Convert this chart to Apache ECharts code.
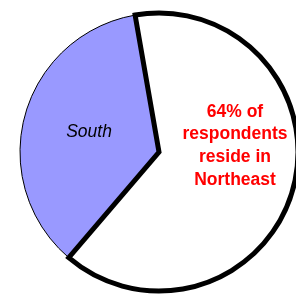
<!DOCTYPE html>
<html>
<head>
<meta charset="utf-8">
<script src="https://cdn.jsdelivr.net/npm/echarts@6/dist/echarts.min.js"></script>
<style>
  html, body { margin: 0; padding: 0; background: #fff; }
  #chart { width: 296px; height: 296px; }
</style>
</head>
<body>
<div id="chart"></div>
<script>
// 区域名称与占比
var regions = ['South', 'Northeast'];
var shares = [36, 64];
var fills = ['#9999ff', '#ffffff'];

var myChart = echarts.init(document.getElementById('chart'));

var pieData = regions.map(function (name, i) {
    var isMain = name === 'Northeast';
    return {
        name: name,
        value: shares[i],
        itemStyle: {
            color: fills[i],
            borderColor: '#000',
            borderWidth: isMain ? 5 : 1,
            borderJoin: 'miter'
        },
        label: isMain ? {
            formatter: '{d}% of\nrespondents\nreside in\n{b}',
            color: '#ff0000',
            fontWeight: 'bold',
            fontSize: 17.5,
            lineHeight: 22.7
        } : {
            formatter: '{b}',
            color: '#000',
            fontStyle: 'italic',
            fontSize: 17.5
        }
    };
});

var option = {
    animation: false,
    series: [{
        type: 'pie',
        center: [159, 152],
        radius: 139,
        startAngle: 229.5,
        clockwise: true,
        label: {
            show: true,
            position: 'inside',
            fontFamily: 'Liberation Sans, Arial, sans-serif'
        },
        labelLine: { show: false },
        labelLayout: function (params) {
            if (params.dataIndex === 1) {
                return { x: 235, y: 146, align: 'center', verticalAlign: 'middle' };
            }
            return { x: 89, y: 132, align: 'center', verticalAlign: 'middle' };
        },
        emphasis: { disabled: true },
        data: pieData
    }]
};
myChart.setOption(option);
</script>
</body>
</html>
